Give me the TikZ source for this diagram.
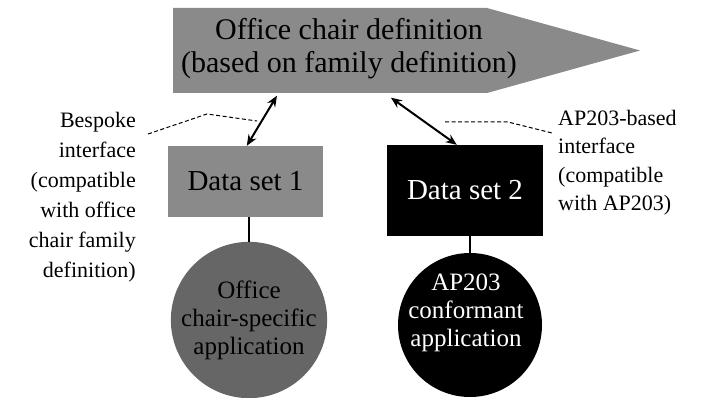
\documentclass[tikz,border=0pt]{standalone}
\usepackage{fontspec}
\setmainfont{Liberation Serif}
\newfontfamily\figserif{Liberation Serif}
\usetikzlibrary{arrows.meta,calc}

\definecolor{shadeA}{HTML}{8A8A8A}
\definecolor{shadeB}{HTML}{666666}

\tikzset{
  boxtext/.style={font=\figserif\fontsize{29}{33}\selectfont, align=center, inner sep=0pt},
  apptext/.style={font=\figserif\fontsize{25}{28}\selectfont, align=center},
  labeltext/.style={font=\figserif\fontsize{22}{30}\selectfont, inner sep=0pt},
  greybox/.style={boxtext, fill=shadeA, text=black},
  blackbox/.style={boxtext, fill=black, text=white},
  appcircle/.style={circle, inner sep=0pt, apptext},
  link/.style={line width=2pt, {Stealth[length=11pt,width=9pt]}-{Stealth[length=11pt,width=9pt]}},
  stem/.style={line width=2pt},
  leader/.style={line width=1pt, dash pattern=on 4pt off 2.5pt},
}

\begin{document}
\begin{tikzpicture}[x=1pt,y=-1pt]
\useasboundingbox (0,0) rectangle (709,398);

% family definition: pointed banner
\fill[shadeA] (173,8) -- (487,8) -- (640,50.5) -- (487,93) -- (173,93) -- cycle;
\node[boxtext, font=\figserif\fontsize{30}{33}\selectfont, minimum width=314pt, minimum height=85pt] (def) at (349,49)
  {Office chair definition\\(based on family definition)};

% data sets
\node[greybox, minimum width=155pt, minimum height=71pt] (ds1) at (245.5,181.5) {Data set 1};
\node[blackbox, minimum width=156pt, minimum height=91pt] (ds2) at (465,190.5) {Data set 2};

% applications
\node[appcircle, fill=shadeB, text=black, minimum size=146pt] (app1) at (249,320)
  {Office\\chair-specific\\application};
\node[appcircle, fill=black, minimum size=144pt] (app2) at (470,325) {};
\node[apptext, text=white] (app2t) at (466,313) {AP203\\conformant\\application};

% interfaces
\draw[link] ([xshift=96pt,yshift=-4pt]def.south west) -- ([xshift=79pt]ds1.north west);
\draw[link] ([xshift=210pt,yshift=-6pt]def.south west) -- ([xshift=70pt]ds2.north west);

\draw[stem] (app1.north) -- (app1.north |- ds1.south);
\draw[stem] (app2.north) -- (app2.north |- ds2.south);

% side notes
\node[labeltext, align=right, anchor=east] (noteL) at (136,197.5)
  {Bespoke\\interface\\(compatible\\with office\\chair family\\definition)};
\node[labeltext, align=left, anchor=west, font=\figserif\fontsize{22}{28.5}\selectfont] (noteR) at (558,162.5)
  {AP203-based\\interface\\(compatible\\with AP203)};

\coordinate (lA) at (148,134);
\coordinate (lB) at (207,114);
\coordinate (lC) at (257,121);
\draw[leader] (lA) -- (lB) -- (lC);

\coordinate (rA) at (445,122);
\coordinate (rB) at (508,122);
\coordinate (rC) at (552,133);
\draw[leader] (rA) -- (rB) -- (rC);
\end{tikzpicture}
\end{document}
